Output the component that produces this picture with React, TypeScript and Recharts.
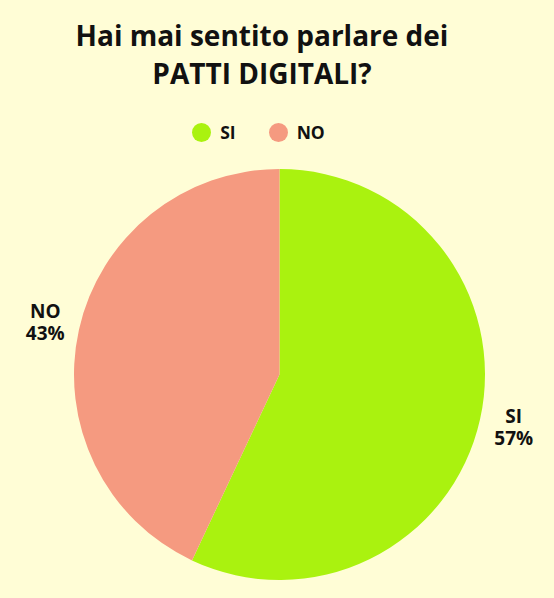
import { PieChart, Pie, Cell } from 'recharts'

const categories = ['SI', 'NO']
const values = [57, 43]
const colors = ['#AAF20F', '#F59A80']

const data = categories.map((name, i) => ({ name, value: values[i] }))

const RADIAN = Math.PI / 180
const FONT = '"Open Sans", "Noto Sans", sans-serif'

function renderLabel(props: any) {
  const { cx, cy, midAngle, outerRadius, name, value } = props
  const r = outerRadius + 34.5
  const x = cx + r * Math.cos(-midAngle * RADIAN)
  const y = cy + r * Math.sin(-midAngle * RADIAN)
  return (
    <text textAnchor="middle" fontFamily={FONT} fontWeight={700} fontSize={19} fill="#111">
      <tspan x={x} y={y - 4}>{name}</tspan>
      <tspan x={x} y={y + 18}>{value}%</tspan>
    </text>
  )
}

export default function App() {
  return (
    <div
      style={{
        position: 'absolute',
        left: 0,
        top: 0,
        width: 554,
        height: 598,
        background: '#FFFDD6',
        fontFamily: FONT,
      }}
    >
      <div
        style={{
          position: 'absolute',
          top: 16,
          left: -30,
          width: 584,
          textAlign: 'center',
          fontSize: 28,
          fontWeight: 700,
          lineHeight: '38px',
          color: '#111',
        }}
      >
        Hai mai sentito parlare dei
        <br />
        PATTI DIGITALI?
      </div>
      <div
        style={{
          position: 'absolute',
          top: 121,
          left: -37,
          width: 591,
          display: 'flex',
          justifyContent: 'center',
          gap: 33,
          fontSize: 17.5,
          fontWeight: 700,
          color: '#111',
          lineHeight: '22px',
        }}
      >
        {categories.map((c, i) => (
          <div key={c} style={{ display: 'flex', alignItems: 'center', gap: 9 }}>
            <span
              style={{
                display: 'inline-block',
                width: 19,
                height: 19,
                borderRadius: '50%',
                background: colors[i],
              }}
            />
            <span>{c}</span>
          </div>
        ))}
      </div>
      <div style={{ position: 'absolute', left: 0, top: 0 }}>
        <PieChart width={554} height={598} margin={{ top: 0, right: 0, bottom: 0, left: 0 }}>
          <Pie
            data={data}
            dataKey="value"
            nameKey="name"
            cx={279.5}
            cy={374.5}
            outerRadius={205.5}
            startAngle={90}
            endAngle={-270}
            stroke="none"
            label={renderLabel}
            labelLine={false}
            isAnimationActive={false}
          >
            {data.map((d, i) => (
              <Cell key={d.name} fill={colors[i]} />
            ))}
          </Pie>
        </PieChart>
      </div>
    </div>
  )
}
